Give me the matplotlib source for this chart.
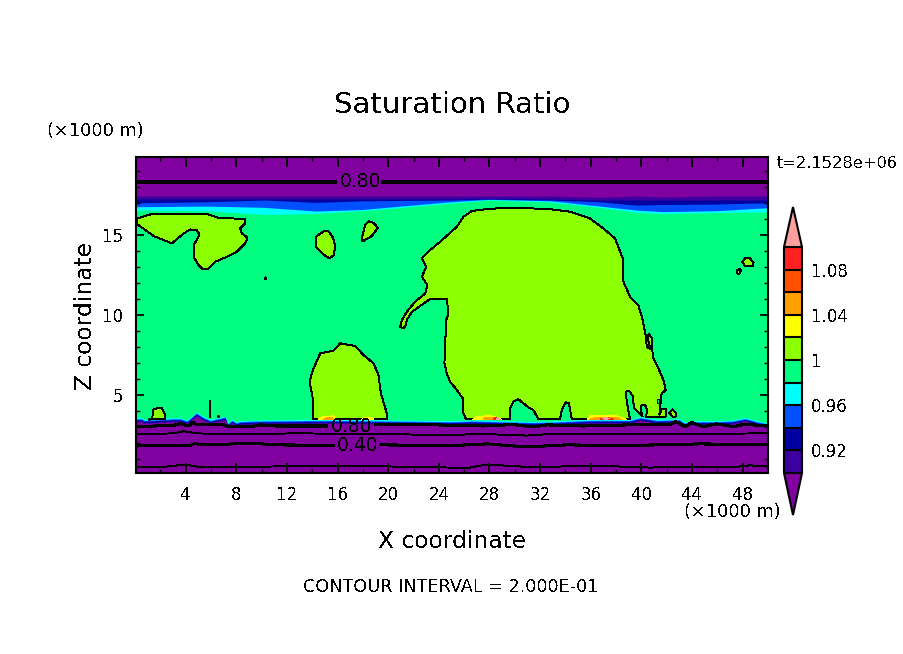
import numpy as np
import matplotlib
matplotlib.use("Agg")
import matplotlib.pyplot as plt
from matplotlib.cm import ScalarMappable
from matplotlib.colors import BoundaryNorm, ListedColormap

# couleurs des niveaux
levels = [0.90, 0.92, 0.94, 0.96, 0.98, 1.00, 1.02, 1.04, 1.06, 1.08, 1.10]
colors = ["#3c00a0", "#0000a0", "#0050ff", "#00ffff", "#00ff80",
          "#8cff00", "#ffff00", "#ffa000", "#ff5000", "#ff2020"]
c_under = "#8000a0"
c_over = "#ffa0a0"
cb_ticks = [0.92, 0.96, 1.00, 1.04, 1.08]
cb_labels = ["0.92", "0.96", "1", "1.04", "1.08"]
x_ticks = [4, 8, 12, 16, 20, 24, 28, 32, 36, 40, 44, 48]
z_ticks = [5, 10, 15]

# bande du haut (tropopause)
top_x = [0.0, 5.7, 10.2, 14.3, 18.0, 24.9, 28.0, 32.8, 36.7, 39.6, 41.7, 45.9, 50.0]
top_cyan = [16.56, 16.52, 16.29, 16.35, 16.52, 16.98, 17.19, 17.06, 16.73, 16.42, 16.35, 16.40, 16.46]
top_blue = [16.77, 16.81, 16.73, 16.50, 16.60, 17.08, 17.23, 17.14, 16.81, 16.56, 16.46, 16.52, 16.71]
top_navy = [17.02, 17.08, 17.19, 17.04, 17.14, 17.19, 17.25, 17.19, 17.08, 16.87, 16.91, 16.94, 17.02]
top_dark = [17.25, 17.25, 17.25, 17.25, 17.25, 17.25, 17.29, 17.25, 17.19, 17.19, 17.19, 17.19, 17.19]
top_purple = [17.44, 17.44, 17.44, 17.44, 17.44, 17.44, 17.44, 17.44, 17.36, 17.44, 17.38, 17.44, 17.44]

# bande du bas
surf_x = [0.0, 0.16, 0.55, 0.68, 3.05, 3.58, 4.10, 4.36, 4.84, 5.42, 5.94, 7.13, 7.31, 7.65, 8.0, 8.31,
          9.63, 15.4, 24.9, 26.7, 31.2, 32.8, 35.9, 39.1, 39.9, 41.2, 43.0, 43.4, 44.1, 45.9, 47.2,
          48.2, 49.1, 49.9, 50.0]
surf_z = [3.58, 3.58, 3.58, 3.48, 3.58, 3.58, 3.44, 3.60, 3.94, 3.65, 3.48, 3.69, 3.27, 3.48, 3.33, 3.40,
          3.44, 3.48, 3.40, 3.44, 3.35, 3.37, 3.48, 3.48, 3.65, 3.48, 3.52, 3.31, 3.40, 3.40, 3.44,
          3.60, 3.40, 3.27, 3.27]
band_depth = [0.0, 0.07, 0.13, 0.20, 0.26]

# isolignes
line80_top_x = [0.0, 15.8, np.nan, 19.6, 50.0]
line80_top_z = [18.33, 18.33, np.nan, 18.33, 18.33]
line80_x = [0.16, 3.05, 3.58, 4.23, 4.55, 4.89, 7.0, 7.39, 9.1, 9.89, 11.2, 15.16, np.nan, 18.97, 22.5, 24.9,
            27.52, 29.89, 31.47, 32.52, 35.42, 39.1, 42.26, 42.73, 43.44, 43.97, 44.89, 45.94, 47.26, 48.18, 50.0]
line80_z = [3.02, 3.10, 3.21, 3.06, 3.29, 3.13, 3.13, 3.02, 3.02, 3.13, 3.06, 3.06, np.nan, 3.13, 3.17, 3.10,
            3.06, 3.15, 3.00, 3.13, 3.06, 3.13, 3.15, 3.33, 3.02, 3.27, 3.02, 3.19, 3.02, 3.17, 3.06]
line60_x = [0.16, 3.05, 3.84, 4.89, 7.5, 12.8, 18.05, 24.89, 27.52, 30.94, 32.78, 38.05, 43.3, 50.0]
line60_z = [2.54, 2.60, 2.73, 2.60, 2.54, 2.60, 2.56, 2.50, 2.56, 2.46, 2.56, 2.56, 2.56, 2.60]
line40_x = [0.16, 4.37, 4.76, 5.16, 9.63, 10.68, 15.68, np.nan, 19.37, 24.89, 27.78, 30.94, 34.1, 38.57, 44.63, 50.0]
line40_z = [1.81, 1.85, 1.98, 1.88, 1.98, 1.88, 1.85, np.nan, 1.88, 1.83, 1.94, 1.75, 1.88, 1.83, 1.94, 1.88]
line20_x = [0.16, 2.5, 3.97, 4.89, 10.16, 16.47, 24.89, 26.47, 27.78, 31.47, 36.2, 40.68, 44.36, 47.26, 48.57, 50.0]
line20_z = [0.48, 0.52, 0.65, 0.52, 0.52, 0.58, 0.46, 0.46, 0.65, 0.48, 0.58, 0.46, 0.52, 0.48, 0.60, 0.52]

# zones S > 1
cloud_a_x = [0.16, 1.21, 5.81, 6.60, 8.71, 8.71, 8.31, 8.45, 8.89, 8.71, 8.05, 7.13, 6.34, 5.81, 5.37, 5.02,
             4.63, 4.63, 5.10, 4.89, 4.37, 3.84, 2.92, 1.47, 0.16]
cloud_a_z = [16.04, 16.29, 16.29, 16.08, 16.0, 15.73, 15.41, 15.10, 14.83, 14.48, 13.96, 13.60, 13.33, 12.91,
             12.85, 13.12, 13.64, 14.37, 15.0, 15.31, 15.35, 15.10, 14.48, 14.94, 15.69]
cloud_b_x = [14.29, 14.89, 15.29, 15.63, 15.79, 15.73, 15.34, 14.95, 14.31]
cloud_b_z = [14.89, 15.23, 15.23, 14.85, 14.37, 13.75, 13.54, 13.75, 14.23]
cloud_c_x = [18.47, 18.84, 19.18, 18.71, 17.97, 17.92, 18.18]
cloud_c_z = [15.85, 15.77, 15.46, 14.94, 14.60, 14.85, 15.62]
cloud_d_x = [14.1, 14.02, 13.79, 14.05, 14.63, 15.68, 16.21, 17.39, 18.05, 18.84, 19.23, 19.42, 19.89, 19.89]
cloud_d_z = [3.48, 4.9, 5.83, 6.56, 7.6, 7.77, 8.23, 8.06, 7.5, 6.98, 6.25, 5.1, 3.85, 3.48]
cloud_e_x = [1.34, 1.47, 1.73, 2.13, 2.37, 2.37]
cloud_e_z = [3.48, 4.1, 4.17, 4.17, 3.75, 3.48]
cloud_f_x = [47.97, 48.18, 48.57, 48.86, 48.78, 48.18]
cloud_f_z = [13.33, 13.54, 13.54, 13.27, 13.06, 13.06]
cloud_g_x = [47.57, 47.78, 47.86, 47.73, 47.57]
cloud_g_z = [12.81, 12.91, 12.81, 12.56, 12.60]
cloud_h_x = [42.2, 42.47, 42.7, 42.7, 42.47]
cloud_h_z = [3.9, 4.1, 3.9, 3.65, 3.65]
cloud_i_x = [10.25, 10.31, 10.37, 10.31]
cloud_i_z = [12.29, 12.36, 12.29, 12.22]
main_x = [24.89, 25.42, 25.94, 26.6, 27.92, 29.89, 32.78, 34.36, 35.94, 37.0, 37.92, 38.57, 38.52, 39.1, 39.76,
          40.1, 40.36, 40.42, 40.73, 40.57, 40.47, 40.6, 40.84, 40.89, 41.34, 41.73, 41.92, 41.6, 41.47, 41.42,
          41.6, 41.94, 41.94, 40.36, 40.47, 40.28, 40.02, 39.94, 40.1, 39.42, 39.31, 39.05, 38.78, 38.84, 39.1,
          34.5, 34.28, 34.02, 33.71, 33.57, 31.86, 31.47, 31.07, 30.28, 29.89, 29.63, 29.63, 26.15, 25.94, 25.89,
          25.42, 24.89, 24.63, 24.44, 24.58, 24.76, 24.63, 23.31, 21.87, 21.47, 21.34, 21.16, 20.95, 21.08, 21.47,
          22.13, 22.92, 23.1, 22.66, 23.0, 22.66, 23.31, 24.1]
main_z = [15.14, 15.52, 16.14, 16.5, 16.64, 16.71, 16.62, 16.46, 16.04, 15.41, 14.79, 13.44, 12.19, 11.14, 10.62,
          9.69, 8.65, 8.02, 7.85, 8.33, 8.6, 8.81, 8.54, 7.4, 6.67, 5.94, 5.31, 5.1, 4.17, 3.75,
          4.1, 4.1, 3.65, 3.65, 4.06, 4.38, 4.38, 4.06, 3.65, 4.17, 4.94, 5.25, 5.21, 4.58, 3.48,
          3.48, 4.48, 4.54, 4.06, 3.48, 3.48, 4.06, 4.23, 4.73, 4.58, 4.17, 3.48, 3.48, 3.85, 4.79,
          5.31, 5.83, 6.35, 6.98, 9.69, 10.1, 11.0, 11.0, 10.2, 9.69, 9.27, 9.17, 9.27, 9.69, 10.2,
          10.83, 11.35, 11.87, 12.39, 13.02, 13.54, 14.06, 14.58]
hole_x = [41.2, 41.36, 41.36, 41.2]
hole_z = [4.75, 4.75, 4.5, 4.5]
spike_x = [5.95, 5.95]
spike_z = [4.63, 3.65]
dot_x = [1.08, 6.55]
dot_z = [3.50, 3.70]

# zones plus saturées près de la base
warm_yellow = [([14.5, 14.76, 15.68, 15.94], [3.48, 3.65, 3.69, 3.48]),
               ([17.92, 18.18, 18.71, 18.84], [3.48, 3.6, 3.6, 3.48]),
               ([26.68, 26.99, 28.05, 28.7, 28.97], [3.48, 3.65, 3.71, 3.58, 3.44]),
               ([35.73, 35.94, 38.05, 38.84], [3.48, 3.69, 3.69, 3.48])]
warm_orange = [([14.9, 15.16, 15.55, 15.73], [3.48, 3.58, 3.58, 3.48]),
               ([27.52, 27.65, 28.57, 28.84], [3.48, 3.6, 3.6, 3.48]),
               ([35.94, 36.47, 38.05, 38.44], [3.48, 3.6, 3.6, 3.48])]
warm_red = [([28.3, 28.4, 28.7, 28.8], [3.48, 3.56, 3.56, 3.48]),
            ([36.73, 37.26, 37.78], [3.48, 3.6, 3.48])]
warm_pink = [([28.57, 28.7, 28.84, 28.7], [3.48, 3.58, 3.48, 3.46]),
             ([36.94, 37.2, 37.52, 37.2], [3.52, 3.58, 3.52, 3.48])]


W, H = 904, 654
plt.rcParams['text.antialiased'] = False
fig = plt.figure(figsize=(W/100, H/100), dpi=100)
fig.patch.set_facecolor('white')

# axe principal : 136-768 px, 157-473 px
ax = fig.add_axes([136/W, 1-473/H, (768-136)/W, (473-157)/H])
ax.set_xlim(0.08, 50)
ax.set_ylim(0.12, 19.88)
ax.set_facecolor(colors[4])

# bande du haut, du bas vers le haut
for edge, col in [(top_cyan, colors[3]), (top_blue, colors[2]), (top_navy, colors[1]),
                  (top_dark, colors[0]), (top_purple, c_under)]:
    ax.fill_between(top_x, edge, 20, color=col, lw=0, antialiased=False, zorder=1)

# bande du bas
for d, col in zip(band_depth, [colors[3], colors[2], colors[1], colors[0], c_under]):
    ax.fill_between(surf_x, 0, np.array(surf_z) - d, color=col, lw=0, antialiased=False, zorder=1)

# zones S > 1
clouds = [(main_x, main_z), (cloud_a_x, cloud_a_z), (cloud_b_x, cloud_b_z), (cloud_c_x, cloud_c_z),
          (cloud_d_x, cloud_d_z), (cloud_e_x, cloud_e_z), (cloud_f_x, cloud_f_z), (cloud_g_x, cloud_g_z),
          (cloud_h_x, cloud_h_z), (cloud_i_x, cloud_i_z)]
for cx, cz in clouds:
    ax.fill(cx, cz, facecolor=colors[5], edgecolor='k', lw=0.7, antialiased=False, zorder=2)
ax.fill(hole_x, hole_z, facecolor=colors[4], edgecolor='k', lw=0.7, antialiased=False, zorder=3)
ax.plot(spike_x, spike_z, color='k', lw=1.4, antialiased=False, zorder=3)
ax.plot(dot_x, dot_z, 's', color='k', ms=1, antialiased=False, zorder=3)

for patches, col in [(warm_yellow, colors[6]), (warm_orange, colors[7]), (warm_red, colors[9]), (warm_pink, c_over)]:
    for px, pz in patches:
        ax.fill(px, pz, color=col, lw=0, antialiased=False, zorder=4)

# isolignes
ax.plot(line80_top_x, line80_top_z, color='k', lw=1.5, antialiased=False, zorder=5)
ax.plot(line80_x, line80_z, color='k', lw=1.5, antialiased=False, zorder=5)
ax.plot(line60_x, line60_z, color='k', lw=0.7, antialiased=False, zorder=5)
ax.plot(line40_x, line40_z, color='k', lw=1.5, antialiased=False, zorder=5)
ax.plot(line20_x, line20_z, color='k', lw=0.7, antialiased=False, zorder=5)
ax.text(17.8, 18.33, "0.80", fontsize=13.5, ha='center', va='center', zorder=6)
ax.text(17.1, 3.03, "0.80", fontsize=13.5, ha='center', va='center', zorder=6)
ax.text(17.55, 1.85, "0.40", fontsize=13.5, ha='center', va='center', zorder=6)

# axes et graduations
ax.set_xticks(x_ticks)
ax.set_xticks(np.arange(2, 50, 4), minor=True)
ax.set_yticks(z_ticks)
ax.set_yticks([z for z in range(1, 20) if z % 5], minor=True)
ax.tick_params(which='major', direction='in', top=True, right=True, length=7.2, width=1.3, labelsize=12, pad=9)
ax.tick_params(axis='y', which='major', length=5.8)
ax.tick_params(which='minor', direction='in', top=True, right=True, length=3, width=1)
for s in ax.spines.values():
    s.set_linewidth(1.5)
    s.set_zorder(10)

# textes
fig.text(452/W, 1-105/H, "Saturation Ratio", fontsize=21, ha='center', va='center')
fig.text(47/W, 1-131/H, "(\u00d71000 m)", fontsize=12.8, ha='left', va='center')
fig.text(777/W, 1-163/H, "t=2.1528e+06", fontsize=11.7, ha='left', va='center')
fig.text(86/W, 1-316/H, "Z coordinate", fontsize=16.8, rotation=90, ha='center', va='center')
fig.text(452/W, 1-542/H, "X coordinate", fontsize=16.8, ha='center', va='center')
fig.text(684/W, 1-512/H, "(\u00d71000 m)", fontsize=12.8, ha='left', va='center')
fig.text(451/W, 1-587/H, "CONTOUR INTERVAL = 2.000E-01", fontsize=12.7, ha='center', va='center')

# barre de couleur : 207-515 px avec les pointes, 247-473 px sans
cax = fig.add_axes([784/W, 1-515/H, 18/W, 308/H])
cmap = ListedColormap(colors)
cmap.set_under(c_under)
cmap.set_over(c_over)
norm = BoundaryNorm(levels, cmap.N)
cb = fig.colorbar(ScalarMappable(norm=norm, cmap=cmap), cax=cax, extend='both',
                  extendfrac=(42/226, 40/226), spacing='proportional', drawedges=True)
cb.set_ticks(cb_ticks, labels=cb_labels)
cb.ax.tick_params(length=0, labelsize=12, pad=6.5)
cb.ax.minorticks_off()
cb.outline.set_linewidth(1.5)
cb.dividers.set_linewidth(1.5)
cb.dividers.set_color('k')

fig.savefig("out.png", dpi=100)
